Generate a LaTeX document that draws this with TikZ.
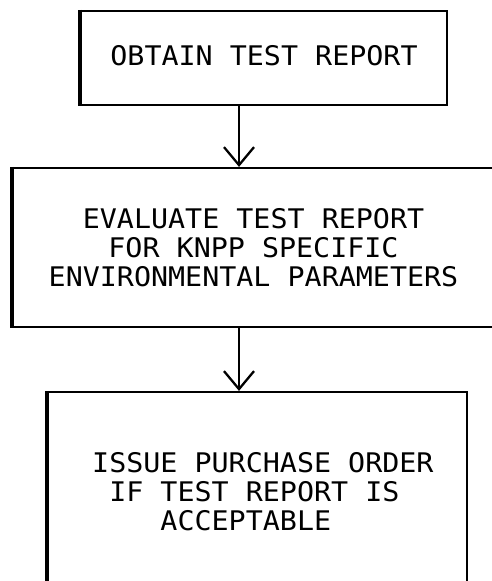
\documentclass[tikz,border=0pt]{standalone}
\usepackage{fontspec}
\newfontfamily\typewriter[FakeStretch=1.05]{DejaVu Sans Mono}
\usetikzlibrary{arrows.meta}
\begin{document}
\begin{tikzpicture}[x=1pt,y=-1pt,
  box/.style={draw,rectangle,line width=2.2pt,inner sep=0pt},
  leftedge/.style={line width=3.6pt},
  label/.style={font=\typewriter\fontsize{27}{29}\selectfont,inner sep=0pt},
  flow/.style={line width=2.3pt,-{Straight Barb[length=18pt,width=30pt,line width=2.3pt]}}]
\useasboundingbox (0,0) rectangle (492,581);
\clip (0,0) rectangle (492,581);

% process boxes
\node[box,minimum width=366pt,minimum height=94pt] (obtain) at (264,58) {};
\node[box,minimum width=483pt,minimum height=159pt] (evaluate) at (254.5,247.5) {};
\node[box,minimum width=419pt,minimum height=218pt] (issue) at (257.5,501) {};

% heavier left-hand rules
\draw[leftedge] (obtain.north west) -- (obtain.south west);
\draw[leftedge] (evaluate.north west) -- (evaluate.south west);
\draw[leftedge] (issue.north west) -- (issue.south west);

% box texts
\node[label,anchor=north,align=center] (obtaintext) at (264,45) {OBTAIN TEST REPORT};
\node[label,anchor=north,align=center] (evaluatetext) at (253.5,208)
  {EVALUATE TEST REPORT\\FOR KNPP SPECIFIC\\ENVIRONMENTAL PARAMETERS};
\node[label,anchor=north west,align=left] (issuetext) at (92,452)
  {ISSUE PURCHASE ORDER\\\phantom{X}IF TEST REPORT IS\\\phantom{XXXX}ACCEPTABLE};

% flow arrows along a common vertical axis
\coordinate (axis) at (239,0);
\draw[flow] (obtain.south -| axis) -- (evaluate.north -| axis);
\draw[flow] (evaluate.south -| axis) -- (issue.north -| axis);
\end{tikzpicture}
\end{document}
